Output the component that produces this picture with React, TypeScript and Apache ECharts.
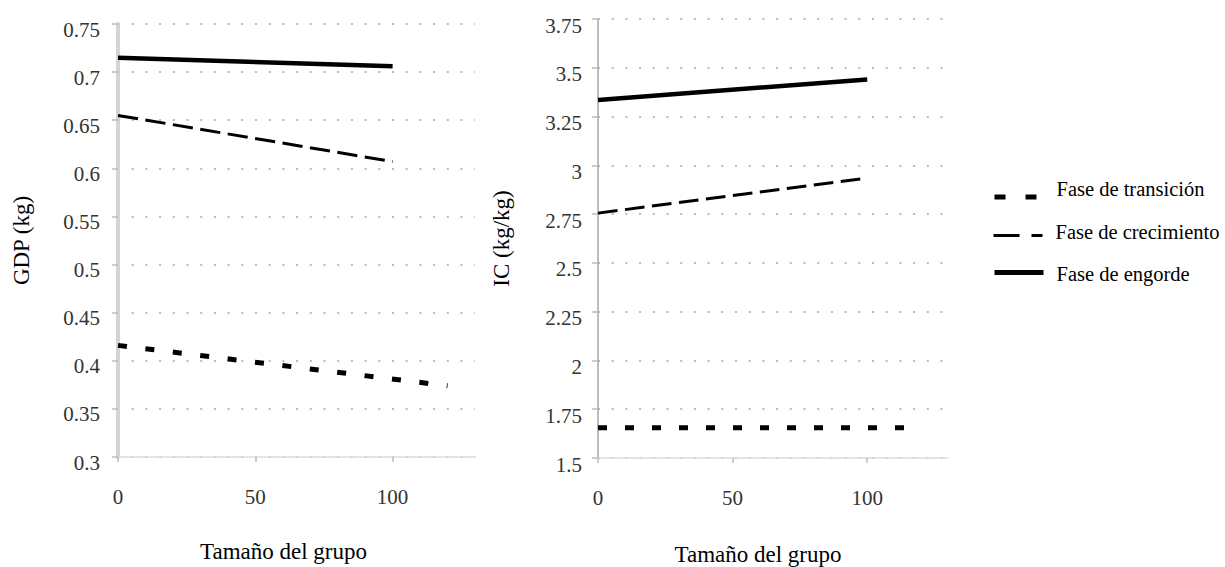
import React, { useEffect, useRef } from "react";
import * as echarts from "echarts";

// ---- data ----
const phaseNames = ["Fase de transición", "Fase de crecimiento", "Fase de engorde"];
const transitionX = [0, 120];
const growthX = [0, 100];
const fatteningX = [0, 100];
const gdpTransition = [0.416, 0.374];
const gdpGrowth = [0.655, 0.607];
const gdpFattening = [0.715, 0.706];
const icTransition = [1.655, 1.655];
const icGrowth = [2.755, 2.935];
const icFattening = [3.335, 3.44];
const xTicks = [0, 50, 100];
const xAxisName = "Tamaño del grupo";
const yAxisNames = ["GDP (kg)", "IC (kg/kg)"];

const FONT = "Liberation Serif, Times New Roman, serif";

const pair = (xs: number[], ys: number[]) => xs.map((x, i) => [x, ys[i]]);

function xAxis(gridIndex: number, gap: number, shift: number) {
  return {
    type: "value",
    gridIndex,
    min: 0,
    max: 130,
    interval: 50,
    name: xAxisName,
    nameLocation: "middle",
    nameGap: gap,
    nameTextStyle: { fontFamily: FONT, fontSize: 23, color: "#000", padding: [0, shift, 0, 0] },
    axisLine: { show: true, onZero: false, lineStyle: { color: "#dcdcdc", width: 1.5 } },
    axisTick: { show: true, customValues: xTicks, length: 5, lineStyle: { color: "#bbb", width: 1.5 } },
    axisLabel: { customValues: xTicks, margin: 29, fontFamily: FONT, fontSize: 21, color: "#333" },
    splitLine: { show: false },
  };
}

function yAxis(gridIndex: number, min: number, max: number, interval: number, name: string, lineW: number, lineC: string, margin: number, spacer: number) {
  return {
    type: "value",
    gridIndex,
    min,
    max,
    interval,
    name,
    nameLocation: "middle",
    nameGap: 85,
    nameTextStyle: { fontFamily: FONT, fontSize: 23, color: "#000" },
    axisLine: { show: true, onZero: false, lineStyle: { color: lineC, width: lineW } },
    axisTick: { show: true, length: 6, lineStyle: { color: "#bbb", width: 1.5 } },
    axisLabel: {
      margin,
      fontFamily: FONT,
      fontSize: 21,
      color: "#333",
      formatter: (v: number) => `{s| }\n{v|${v}}`,
      rich: {
        s: { fontSize: 1, lineHeight: spacer },
        v: { fontFamily: FONT, fontSize: 21, lineHeight: 24, color: "#333" },
      },
    },
    splitLine: { show: true, lineStyle: { color: "#bbb", width: 2, type: [2, 11.7] } },
  };
}

function line(name: string, xi: number, data: number[][], width: number, dash: any) {
  return {
    type: "line",
    name,
    xAxisIndex: xi,
    yAxisIndex: xi,
    data,
    symbol: "none",
    showSymbol: false,
    lineStyle: { color: "#000", width, type: dash, cap: "butt" },
    itemStyle: { color: "#000" },
    z: 3,
  };
}

function legendItem(name: string, top: number, lineStyle: any, spacer: number, spacerAbove: boolean) {
  return {
    orient: "vertical",
    left: 987,
    top,
    itemWidth: 49,
    itemHeight: 14,
    data: [{ name, lineStyle, itemStyle: { opacity: 0, borderWidth: 0 } }],
    formatter: (n: string) => (spacerAbove ? `{s| }\n{t|${n}}` : `{t|${n}}\n{s| }`),
    textStyle: {
      fontFamily: FONT,
      fontSize: 20.5,
      color: "#000",
      padding: [0, 0, 0, 8],
      rich: {
        t: { fontFamily: FONT, fontSize: 20.5, lineHeight: 24, color: "#000" },
        s: { fontSize: 1, lineHeight: spacer },
      },
    },
  };
}

export default function App() {
  const ref = useRef<HTMLDivElement>(null);
  useEffect(() => {
    if (!ref.current) return;
    const chart = echarts.init(ref.current, null, { renderer: "svg" });
    chart.setOption({
      animation: false,
      backgroundColor: "#fff",
      textStyle: { fontFamily: FONT },
      grid: [
        { left: 118, top: 24, width: 357, height: 433, outerBoundsMode: "none", containLabel: false },
        { left: 598, top: 19, width: 350, height: 439, outerBoundsMode: "none", containLabel: false },
      ],
      xAxis: [xAxis(0, 83, 26), xAxis(1, 85, 30)],
      yAxis: [
        yAxis(0, 0.3, 0.75, 0.05, yAxisNames[0], 4, "#d4d4d4", 18, 11),
        yAxis(1, 1.5, 3.75, 0.25, yAxisNames[1], 1.5, "#a8a8a8", 16, 13),
      ],
      legend: [
        legendItem(phaseNames[0], 173, { type: [11, 20], width: 5, color: "#000" }, 17, false),
        legendItem(phaseNames[1], 216, { type: [26, 12], width: 3, color: "#000" }, 8, false),
        legendItem(phaseNames[2], 255, { type: "solid", width: 5, color: "#000" }, 3, true),
      ],
      series: [
        line(phaseNames[0], 0, pair(transitionX, gdpTransition), 5, [9, 18.6]),
        line(phaseNames[1], 0, pair(growthX, gdpGrowth), 3, [20.3, 7.5]),
        line(phaseNames[2], 0, pair(fatteningX, gdpFattening), 4.5, "solid"),
        line(phaseNames[0], 1, pair(transitionX, icTransition), 5, [9, 18]),
        line(phaseNames[1], 1, pair(growthX, icGrowth), 3, [19.7, 7.5]),
        line(phaseNames[2], 1, pair(fatteningX, icFattening), 4.5, "solid"),
      ],
    });
    return () => chart.dispose();
  }, []);
  return (
    <div
      ref={ref}
      style={{ position: "fixed", left: 0, top: 0, width: 1225, height: 567, background: "#fff" }}
    />
  );
}
